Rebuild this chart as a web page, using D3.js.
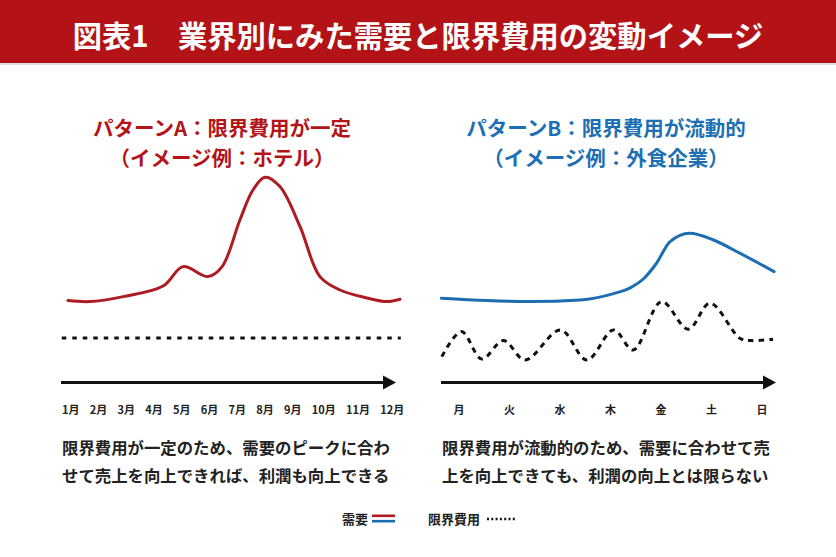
<!DOCTYPE html>
<html><head><meta charset="utf-8">
<script src="https://cdn.jsdelivr.net/npm/d3@7"></script>
<style>
html,body{margin:0;padding:0;background:#fff;}
svg{display:block;font-family:"Noto Sans CJK JP","Noto Sans",sans-serif;}
</style></head><body>
<script>
// ---------- DATA ----------
const titleText = "図表1\u3000業界別にみた需要と限界費用の変動イメージ";
const titleA = ["パターンA：限界費用が一定", "（イメージ例：ホテル）"];
const titleB = ["パターンB：限界費用が流動的", "（イメージ例：外食企業）"];
const months = ["1月","2月","3月","4月","5月","6月","7月","8月","9月","10月","11月","12月"];
const days = ["月","火","水","木","金","土","日"];
// Pattern A demand: x in month units, y in index units
const demandA_x = [1.0, 1.74, 2.86, 4.21, 4.88, 5.72, 6.2, 6.8, 7.24, 7.65, 8.15, 8.83, 9.5, 10.18, 11.09, 11.76, 12.2];
const demandA_y = [29.7, 29.2, 31.7, 37, 46.7, 41.7, 46.7, 70, 85, 91.4, 86.7, 66.7, 41.7, 35, 31, 29.2, 30.4];
const costA_x = [0.79, 12.23];
const costA_y = [11, 11];
// Pattern B demand: x in day units (0 = 月)
const demandB_x = [-0.35, 0.55, 1.41, 2.4, 3.06, 3.4, 3.65, 3.9, 4.18, 4.57, 5.04, 5.56, 6.24];
const demandB_y = [30.9, 29.7, 29.2, 30, 33.2, 36.2, 40.5, 48, 59.2, 63.4, 60, 53.4, 44.2];
const costB_x = [-0.34, 0.05, 0.45, 0.88, 1.31, 2.01, 2.53, 3.06, 3.45, 4.01, 4.54, 4.97, 5.56, 5.79, 6.22];
const costB_y = [1.7, 14.2, 0.5, 9.7, 0, 15, 0, 15, 5, 29.2, 15.4, 28.4, 10.9, 9.7, 10.4];
const textA = ["限界費用が一定のため、需要のピークに合わ", "せて売上を向上できれば、利潤も向上できる"];
const textB = ["限界費用が流動的のため、需要に合わせて売", "上を向上できても、利潤の向上とは限らない"];
const legendItems = ["需要", "限界費用"];

// ---------- STYLE ----------
const W = 836, H = 557;
const RED = "#b3141a", RED_LINE = "#ad1c22", BLUE = "#1d6fb3", BLUE_LINE = "#1c6db2", INK = "#222";

const svg = d3.select("body").append("svg").attr("width", W).attr("height", H);

// header
svg.append("rect").attr("x",0).attr("y",0).attr("width",W).attr("height",63).attr("fill","#b31217");
svg.append("rect").attr("x",0).attr("y",63).attr("width",W).attr("height",2).attr("fill","#e2e2e2");
svg.append("text").attr("x",418).attr("y",34).attr("text-anchor","middle").attr("dominant-baseline","central")
  .attr("fill","#fff").attr("font-size",29.3).attr("font-weight",700).text(titleText);

// scales
const y = d3.scaleLinear().domain([0,100]).range([360,160]);
const xA = d3.scaleLinear().domain([1,12]).range([68,394]);
const xB = d3.scaleLinear().domain([0,6]).range([459,762]);

function panelTitle(lines, cx, color){
  lines.forEach((t,i)=>{
    svg.append("text").attr("x",cx).attr("y",127+i*30).attr("text-anchor","middle")
      .attr("dominant-baseline","central").attr("fill",color).attr("font-size",20.5)
      .attr("font-weight",700).text(t);
  });
}
panelTitle(titleA, 222, RED);
panelTitle(titleB, 606, BLUE);

const lineGen = (xs, curve) => d3.line().x(d=>xs(d[0])).y(d=>y(d[1])).curve(curve);

// Pattern A
svg.append("path").datum(d3.zip(demandA_x, demandA_y)).attr("d", lineGen(xA, d3.curveCatmullRom.alpha(0.5)))
  .attr("fill","none").attr("stroke",RED_LINE).attr("stroke-width",3).attr("stroke-linecap","round");
svg.append("path").datum(d3.zip(costA_x, costA_y)).attr("d", lineGen(xA, d3.curveLinear))
  .attr("fill","none").attr("stroke","#111").attr("stroke-width",2.8).attr("stroke-dasharray","4.5 6");

// Pattern B
svg.append("path").datum(d3.zip(demandB_x, demandB_y)).attr("d", lineGen(xB, d3.curveMonotoneX))
  .attr("fill","none").attr("stroke",BLUE_LINE).attr("stroke-width",3).attr("stroke-linecap","round");
svg.append("path").datum(d3.zip(costB_x, costB_y)).attr("d", lineGen(xB, d3.curveCatmullRom.alpha(0.5)))
  .attr("fill","none").attr("stroke","#111").attr("stroke-width",3).attr("stroke-dasharray","5.5 5");

// axis arrows
function arrow(x0, x1, yy){
  svg.append("line").attr("x1",x0).attr("x2",x1-10).attr("y1",yy).attr("y2",yy)
    .attr("stroke","#111").attr("stroke-width",3);
  svg.append("path").attr("d",`M${x1-13},${yy-7}L${x1},${yy}L${x1-13},${yy+7}Z`).attr("fill","#111");
}
arrow(61, 396, 382.5);
arrow(441, 776, 382.5);

// month labels (flowing text)
const mt = svg.append("text").attr("x",62).attr("y",409).attr("dominant-baseline","central")
  .attr("font-size",11).attr("font-weight",700).attr("fill",INK);
months.forEach((m,i)=>{ mt.append("tspan").attr("dx", i===0?0:10.25).text(m); });

// day labels
svg.selectAll("text.day").data(days).enter().append("text").attr("class","day")
  .attr("x",(d,i)=>xB(i)).attr("y",409).attr("text-anchor","middle").attr("dominant-baseline","central")
  .attr("font-size",11).attr("font-weight",700).attr("fill",INK).text(d=>d);

// body texts
function body(lines, x){
  lines.forEach((t,i)=>{
    svg.append("text").attr("x",x).attr("y",447+i*28).attr("dominant-baseline","central")
      .attr("font-size",16.4).attr("font-weight",700).attr("fill",INK).text(t);
  });
}
body(textA, 62);
body(textB, 442);

// legend
svg.append("text").attr("x",368).attr("y",518).attr("text-anchor","end").attr("dominant-baseline","central")
  .attr("font-size",13).attr("font-weight",700).attr("fill",INK).text(legendItems[0]);
svg.append("line").attr("x1",372).attr("x2",395).attr("y1",515.8).attr("y2",515.8).attr("stroke",RED_LINE).attr("stroke-width",2.6);
svg.append("line").attr("x1",372).attr("x2",395).attr("y1",521.2).attr("y2",521.2).attr("stroke",BLUE_LINE).attr("stroke-width",2.6);
svg.append("text").attr("x",428).attr("y",518).attr("dominant-baseline","central")
  .attr("font-size",13).attr("font-weight",700).attr("fill",INK).text(legendItems[1]);
svg.append("line").attr("x1",487).attr("x2",517).attr("y1",519).attr("y2",519).attr("stroke","#111")
  .attr("stroke-width",2.4).attr("stroke-dasharray","2 2.3");
</script>
</body></html>
